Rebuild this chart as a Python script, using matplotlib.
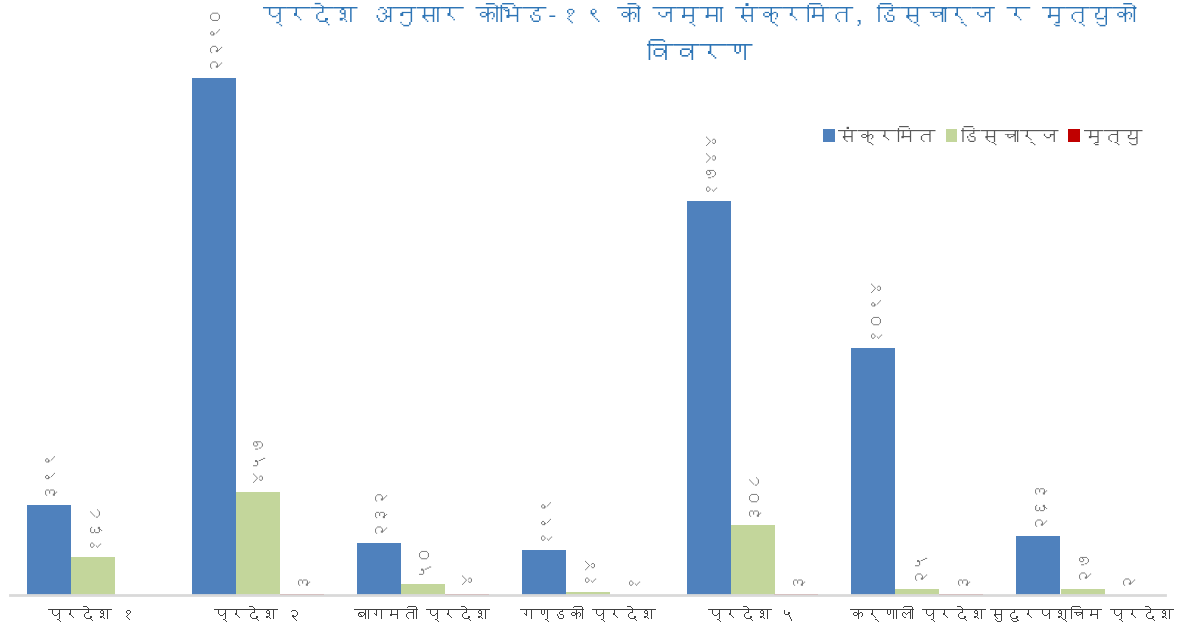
import matplotlib
matplotlib.use("Agg")
import matplotlib.pyplot as plt
import numpy as np
from matplotlib import font_manager
from matplotlib.ft2font import FT2Font

# ---------------- data ----------------
categories = ['प्रदेश १', 'प्रदेश २', 'बागमती प्रदेश', 'गण्डकी प्रदेश',
              'प्रदेश ५', 'कर्णाली प्रदेश', 'सुदुरपश्चिम प्रदेश']
infected = [399, 2290, 232, 199, 1744, 1094, 263]
discharged = [168, 457, 50, 14, 308, 25, 27]
deaths = [0, 3, 4, 1, 3, 3, 2]
series_names = ['संक्रमित', 'डिस्चार्ज', 'मृत्यु']
title_line1 = 'प्रदेश अनुसार कोभिड-१९ को जम्मा संक्रमित, डिस्चार्ज र मृत्युको'
title_line2 = 'विवरण'

# ---------------- font ----------------
def find_dev_font():
    for f in font_manager.fontManager.ttflist:
        try:
            ft = FT2Font(f.fname)
            if ft.get_char_index(ord('प')) and ft.get_char_index(ord('९')):
                return f.name
        except Exception:
            pass
    return None

dev = find_dev_font()
fams = ([dev] if dev else []) + ['DejaVu Sans']
plt.rcParams['font.family'] = fams

DEV_DIGITS = str.maketrans('0123456789', '०१२३४५६७८९')
def dev_num(v):
    return str(v).translate(DEV_DIGITS)

blue = '#4F81BD'
green = '#C3D69B'
red = '#C00000'

fig = plt.figure(figsize=(11.79, 6.41), dpi=100)
ax = fig.add_axes([10 / 1179, 46 / 641, 1155 / 1179, 595 / 641])

x = np.arange(len(categories))
w = 44 / 165
ax.bar(x - w, infected, w, color=blue, label=series_names[0])
ax.bar(x, discharged, w, color=green, label=series_names[1])
ax.bar(x + w, deaths, w, color=red, label=series_names[2])

for series, off in ((infected, -w), (discharged, 0), (deaths, w)):
    for xi, v in zip(x, series):
        if v == 0:
            continue
        ax.annotate(dev_num(v), (xi + off, v), xytext=(0, 7),
                    textcoords='offset points', rotation=90,
                    ha='center', va='bottom', fontsize=12, color='#7f7f7f')

ax.set_xlim(-0.5, len(categories) - 0.5)
ax.set_ylim(0, 2635)
for s in ('top', 'right', 'left'):
    ax.spines[s].set_visible(False)
ax.spines['bottom'].set_color('#d9d9d9')
ax.spines['bottom'].set_linewidth(2)
ax.set_yticks([])
ax.set_xticks(x)
ax.set_xticklabels(categories, fontsize=11.5, color='#404040')
ax.tick_params(axis='x', length=0, pad=8)

leg = ax.legend(loc='upper right', bbox_to_anchor=(1160 / 1179, 1 - 108 / 641),
                bbox_transform=fig.transFigure, ncol=3, frameon=False,
                fontsize=14, handlelength=0.6, handleheight=0.6,
                handletextpad=0.2, columnspacing=0.5, labelcolor='#595959')

fig.text(700 / 1179, 1 - 14 / 641, title_line1, ha='center', va='center',
         fontsize=17, color='#2E75B6')
fig.text(700 / 1179, 1 - 55 / 641, title_line2, ha='center', va='center',
         fontsize=19, color='#2E75B6')

fig.savefig('out.png', dpi=100)
